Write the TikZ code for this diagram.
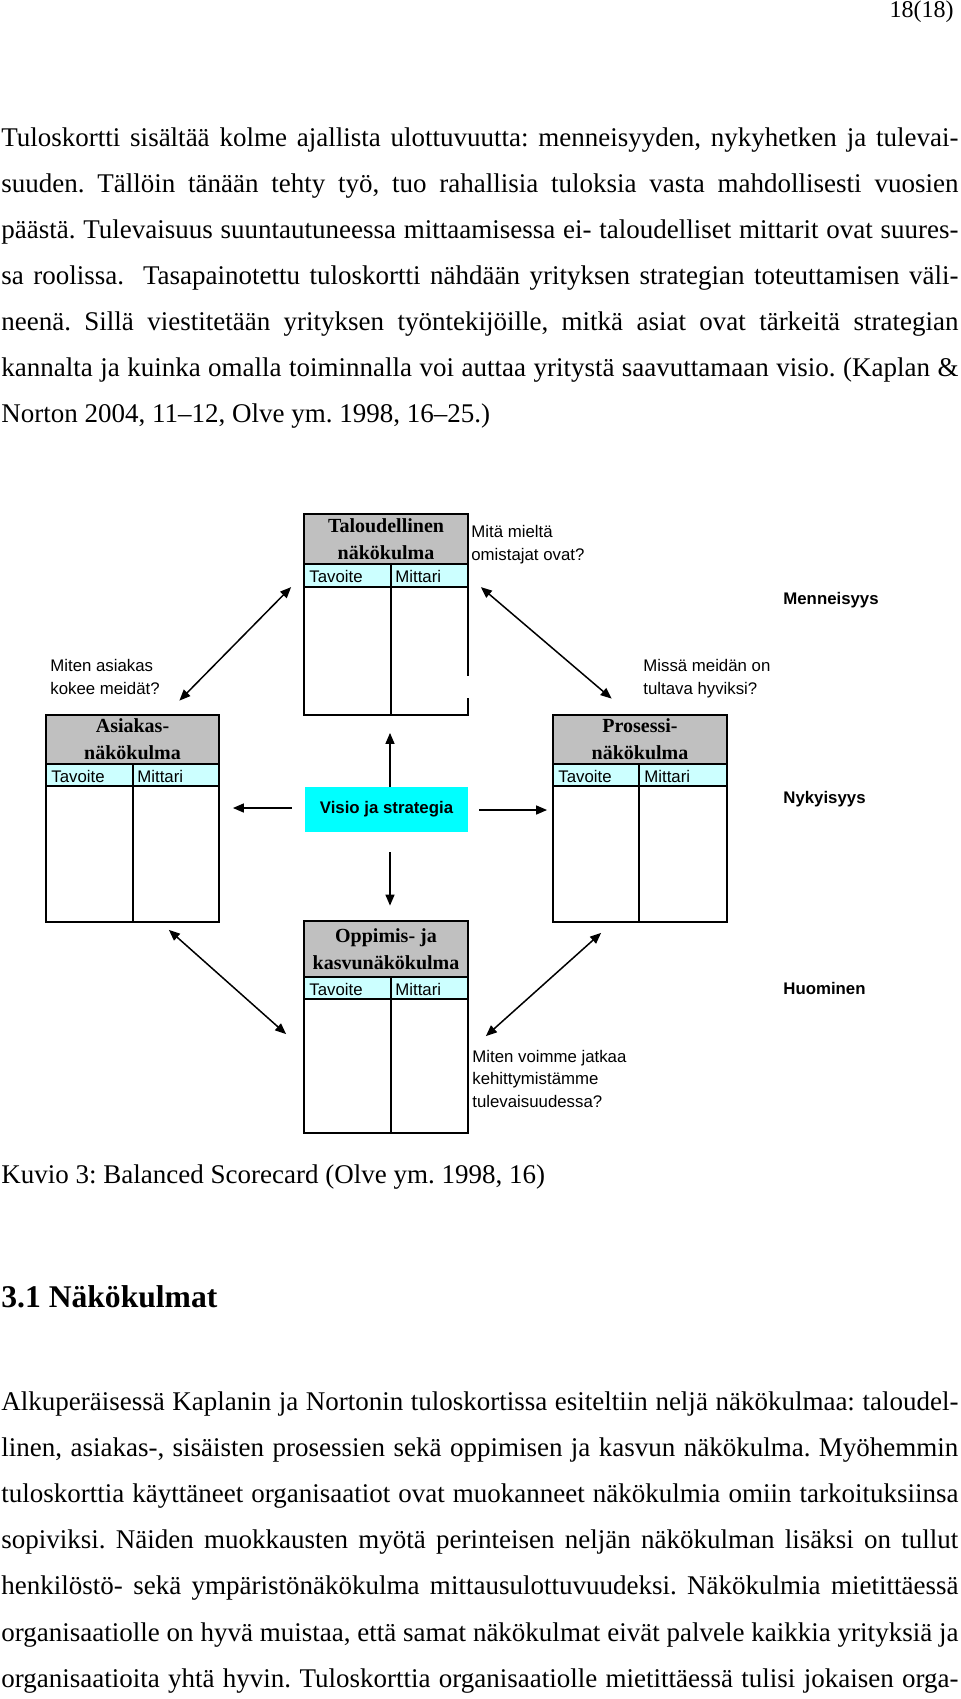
\documentclass[tikz,border=0pt]{standalone}
\usepackage{fontspec}
\setmainfont{Liberation Serif}
\setsansfont{Liberation Sans}
\usetikzlibrary{arrows.meta,calc}
\definecolor{bschead}{RGB}{192,192,192}
\definecolor{bscrow}{RGB}{204,255,255}
\definecolor{bscvisio}{RGB}{0,255,255}
\newcommand{\bodyfont}{\fontsize{13.5}{16}\selectfont}
\newcommand{\headfont}{\bfseries\fontsize{15.8}{18}\selectfont}
\newcommand{\pagefont}{\fontsize{12}{14}\selectfont}
\newcommand{\cardfont}{\bfseries\fontsize{10}{13.5}\selectfont}
\newcommand{\labelfont}{\sffamily\fontsize{8.4}{11.2}\selectfont}
\frenchspacing

\begin{document}
\begin{tikzpicture}[
  x=0.5pt,y=-0.5pt,
  every node/.style={inner sep=0pt},
  txtline/.style={anchor=base west,font=\bodyfont},
  cardhead/.style={draw,line width=1.4pt,fill=bschead,align=center,font=\cardfont},
  cardrow/.style={draw,line width=0.9pt,fill=bscrow},
  cardbody/.style={draw,line width=0.9pt,fill=white},
  celltext/.style={anchor=base west,font=\labelfont},
  question/.style={anchor=base west,align=left,font=\labelfont},
  timelabel/.style={anchor=base west,font=\labelfont\bfseries},
  arr/.style={-{Triangle[length=5.5pt,width=4.5pt]},line width=0.75pt},
  dblarr/.style={{Triangle[length=5.5pt,width=4.5pt]}-{Triangle[length=5.5pt,width=4.5pt]},line width=0.75pt},
]
  \useasboundingbox (0,0) rectangle (960,1699);

  % page number
  \node[anchor=base east,font=\pagefont] (pagenum) at (954,17) {18(18)};

  % text above the figure
  \node[txtline] (par1-l1) at (1,146) {\makebox[478.5pt][s]{Tuloskortti sisältää kolme ajallista ulottuvuutta: menneisyyden, nykyhetken ja tulevai-}};
  \node[txtline] (par1-l2) at (1,192) {\makebox[478.5pt][s]{suuden. Tällöin tänään tehty työ, tuo rahallisia tuloksia vasta mahdollisesti vuosien}};
  \node[txtline] (par1-l3) at (1,238) {\makebox[478.5pt][s]{päästä. Tulevaisuus suuntautuneessa mittaamisessa ei- taloudelliset mittarit ovat suures-}};
  \node[txtline] (par1-l4) at (1,284) {\makebox[478.5pt][s]{sa roolissa.\ \ Tasapainotettu tuloskortti nähdään yrityksen strategian toteuttamisen väli-}};
  \node[txtline] (par1-l5) at (1,330) {\makebox[478.5pt][s]{neenä. Sillä viestitetään yrityksen työntekijöille, mitkä asiat ovat tärkeitä strategian}};
  \node[txtline] (par1-l6) at (1,376) {\makebox[478.5pt][s]{kannalta ja kuinka omalla toiminnalla voi auttaa yritystä saavuttamaan visio. (Kaplan \&}};
  \node[txtline] (par1-l7) at (1,422) {Norton 2004, 11–12, Olve ym. 1998, 16–25.)};

  % Taloudellinen card
  \node[cardbody,minimum width=82pt,minimum height=64pt] (talous-body) at (386,651) {};
  \node[cardrow,minimum width=82pt,minimum height=11.5pt] (talous-row) at (386,575.5) {};
  \draw[line width=0.9pt] (391,564) -- (391,715);
  \fill[white] (466,676) rectangle (470,698);
  \node[cardhead,minimum width=82pt,minimum height=25pt] (talous) at (386,539) {Taloudellinen\\näkökulma};
  \node[celltext] (talous-tav) at (309,582) {Tavoite};
  \node[celltext] (talous-mit) at (395,582) {Mittari};

  % Asiakas card
  \node[cardbody,minimum width=86.5pt,minimum height=68pt] (asiakas-body) at (132.5,854) {};
  \node[cardrow,minimum width=86.5pt,minimum height=11pt] (asiakas-row) at (132.5,775) {};
  \draw[line width=0.9pt] (133,764) -- (133,922);
  \node[cardhead,minimum width=86.5pt,minimum height=24.5pt] (asiakas) at (132.5,739.5) {Asiakas-\\näkökulma};
  \node[celltext] (asiakas-tav) at (51,782) {Tavoite};
  \node[celltext] (asiakas-mit) at (137,782) {Mittari};

  % Prosessi card
  \node[cardbody,minimum width=87pt,minimum height=68pt] (prosessi-body) at (640,854) {};
  \node[cardrow,minimum width=87pt,minimum height=11pt] (prosessi-row) at (640,775) {};
  \draw[line width=0.9pt] (639,764) -- (639,922);
  \node[cardhead,minimum width=87pt,minimum height=24.5pt] (prosessi) at (640,739.5) {Prosessi-\\näkökulma};
  \node[celltext] (prosessi-tav) at (558,782) {Tavoite};
  \node[celltext] (prosessi-mit) at (644,782) {Mittari};

  % Oppimis card
  \node[cardbody,minimum width=82pt,minimum height=67pt] (oppimis-body) at (386,1066) {};
  \node[cardrow,minimum width=82pt,minimum height=11pt] (oppimis-row) at (386,988) {};
  \draw[line width=0.9pt] (391,977) -- (391,1133);
  \node[cardhead,minimum width=82pt,minimum height=28pt] (oppimis) at (386,949) {Oppimis- ja\\kasvunäkökulma};
  \node[celltext] (oppimis-tav) at (309,995) {Tavoite};
  \node[celltext] (oppimis-mit) at (395,995) {Mittari};

  % Vision in the middle
  \node[fill=bscvisio,minimum width=81.5pt,minimum height=22.5pt,font=\labelfont\bfseries] (visio) at (386.5,809.5) {Visio ja strategia};

  % arrows out of the vision
  \draw[arr] ($(visio.north)+(3.5,0)$) -- ($(talous-body.south)+(4,17)$);
  \draw[arr] ($(visio.south)+(3.5,20)$) -- ($(oppimis.north)+(4,-14)$);
  \draw[arr] ($(visio.west)+(-13,-1.5)$) -- ($(asiakas-body.east |- visio.west)+(13,-1.5)$);
  \draw[arr] ($(visio.east)+(11,0.5)$) -- ($(prosessi-body.west |- visio.east)+(-5,0.5)$);

  % arrows between the cards
  \draw[dblarr] ($(talous-body.north west)+(-12,1)$) -- ($(asiakas.north east)+(-41,-13)$);
  \draw[dblarr] ($(talous-body.north east)+(12,1)$) -- ($(prosessi.north west)+(60,-15)$);
  \draw[dblarr] ($(asiakas-body.south east)+(-51,7)$) -- ($(oppimis-body.north west)+(-17,36)$);
  \draw[dblarr] ($(prosessi-body.south west)+(49,10)$) -- ($(oppimis-body.north east)+(17,38)$);

  % questions (anchored on their last line)
  \node[question] (q-talous) at (471,560) {Mitä mieltä\\omistajat ovat?};
  \node[question] (q-asiakas) at (50,694) {Miten asiakas\\kokee meidät?};
  \node[question] (q-prosessi) at (643,694) {Missä meidän on\\tultava hyviksi?};
  \node[question] (q-oppimis) at (472,1107) {Miten voimme jatkaa\\kehittymistämme\\tulevaisuudessa?};

  % time labels
  \node[timelabel] (menneisyys) at (783,604) {Menneisyys};
  \node[timelabel] (nykyisyys) at (783,803) {Nykyisyys};
  \node[timelabel] (huominen) at (783,994) {Huominen};

  % caption and heading
  \node[txtline] (caption) at (1,1183) {Kuvio 3: Balanced Scorecard (Olve ym. 1998, 16)};
  \node[txtline,font=\headfont] (heading) at (1,1307) {3.1 Näkökulmat};

  % text below the heading
  \node[txtline] (par2-l1) at (1,1410) {\makebox[478.5pt][s]{Alkuperäisessä Kaplanin ja Nortonin tuloskortissa esiteltiin neljä näkökulmaa: taloudel-}};
  \node[txtline] (par2-l2) at (1,1456.2) {\makebox[478.5pt][s]{linen, asiakas-, sisäisten prosessien sekä oppimisen ja kasvun näkökulma. Myöhemmin}};
  \node[txtline] (par2-l3) at (1,1502.4) {\makebox[478.5pt][s]{tuloskorttia käyttäneet organisaatiot ovat muokanneet näkökulmia omiin tarkoituksiinsa}};
  \node[txtline] (par2-l4) at (1,1548.6) {\makebox[478.5pt][s]{sopiviksi. Näiden muokkausten myötä perinteisen neljän näkökulman lisäksi on tullut}};
  \node[txtline] (par2-l5) at (1,1594.8) {\makebox[478.5pt][s]{henkilöstö- sekä ympäristönäkökulma mittausulottuvuudeksi. Näkökulmia mietittäessä}};
  \node[txtline] (par2-l6) at (1,1641) {\makebox[478.5pt][s]{organisaatiolle on hyvä muistaa, että samat näkökulmat eivät palvele kaikkia yrityksiä ja}};
  \node[txtline] (par2-l7) at (1,1687.2) {\makebox[478.5pt][s]{organisaatioita yhtä hyvin. Tuloskorttia organisaatiolle mietittäessä tulisi jokaisen orga-}};
\end{tikzpicture}
\end{document}
